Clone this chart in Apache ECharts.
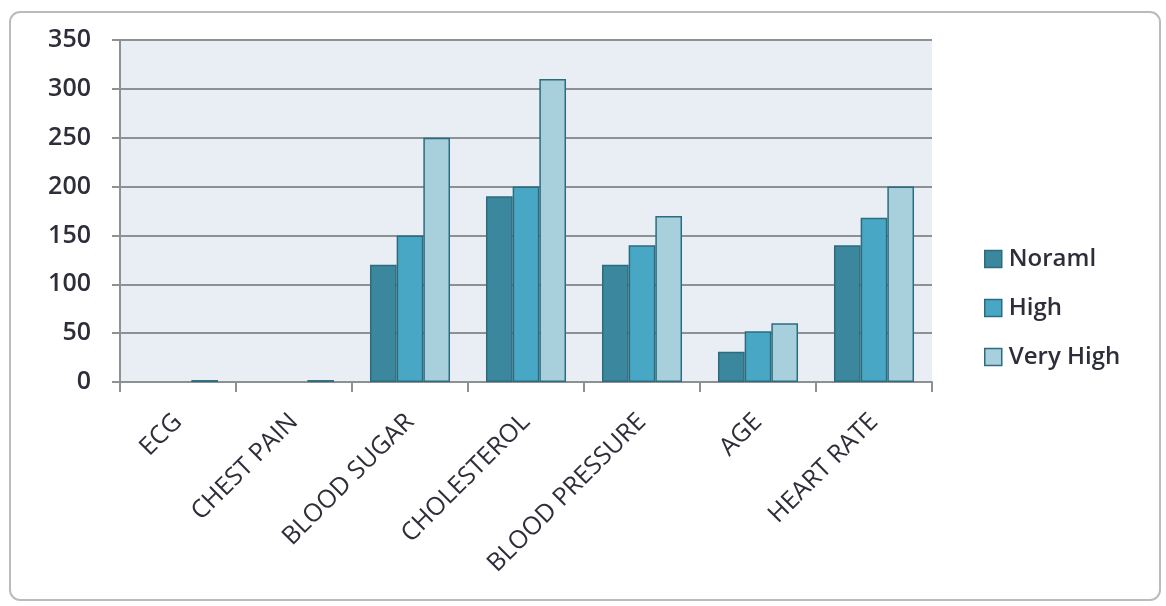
<!DOCTYPE html>
<html>
<head>
<meta charset="utf-8">
<script src="https://cdn.jsdelivr.net/npm/echarts@6/dist/echarts.min.js"></script>
<style>
  html, body { margin: 0; padding: 0; background: #ffffff; }
  #chart { width: 1166px; height: 606px; }
</style>
</head>
<body>
<div id="chart"></div>
<script>
// Risk factor readings grouped by level
const categories = ['ECG', 'CHEST PAIN', 'BLOOD SUGAR', 'CHOLESTEROL', 'BLOOD PRESSURE', 'AGE', 'HEART RATE'];
const seriesNames = ['Noraml', 'High', 'Very High'];
const normalValues = [0, 0, 120, 190, 120, 31, 140];
const highValues = [0, 0, 150, 200, 140, 52, 168];
const veryHighValues = [2, 2, 250, 310, 170, 60, 200];
const yTicks = [0, 50, 100, 150, 200, 250, 300, 350];

const fills = ['#3b879d', '#48a7c4', '#a8cfdc'];
const edge = '#2d6c7e';
const textColor = '#2e2e3a';
const font = '"Open Sans", "Liberation Sans", sans-serif';

const chart = echarts.init(document.getElementById('chart'), null, { renderer: 'canvas' });

const valueSets = [normalValues, highValues, veryHighValues];

chart.setOption({
  animation: false,
  backgroundColor: '#ffffff',
  graphic: [{
    type: 'rect',
    shape: { x: 10, y: 12, width: 1150, height: 588, r: 10 },
    style: { fill: 'none', stroke: '#b9bcbf', lineWidth: 2 },
    z: -1
  }],
  grid: {
    left: 120, right: 234, top: 40, bottom: 224,
    show: true, backgroundColor: '#e9eef5', borderWidth: 0
  },
  legend: {
    orient: 'vertical',
    left: 979, top: 242,
    itemWidth: 17, itemHeight: 17, itemGap: 25,
    icon: 'rect',
    data: seriesNames,
    textStyle: { fontFamily: font, fontSize: 24, fontWeight: 600, color: textColor, padding: [0, 0, 0, 2] },
    itemStyle: { borderColor: edge, borderWidth: 1.5 }
  },
  xAxis: {
    type: 'category',
    data: categories,
    boundaryGap: true,
    axisLine: { show: true, onZero: false, lineStyle: { color: '#8e9194', width: 2 } },
    axisTick: { show: true, length: 10, alignWithLabel: false, lineStyle: { color: '#8e9194', width: 2 } },
    axisLabel: {
      rotate: 45, margin: 36, interval: 0,
      fontFamily: font, fontSize: 25, color: textColor
    }
  },
  yAxis: {
    type: 'value',
    min: 0, max: 350, interval: 50,
    axisLine: { show: true, lineStyle: { color: '#8e9194', width: 2 } },
    axisTick: { show: true, length: 8, lineStyle: { color: '#8e9194', width: 2 } },
    splitLine: { show: true, lineStyle: { color: '#8e9194', width: 2 } },
    axisLabel: {
      margin: 29, fontFamily: font, fontSize: 25, fontWeight: 600, color: textColor,
      formatter: v => yTicks.includes(v) ? String(v) : ''
    }
  },
  series: seriesNames.map((name, i) => ({
    name: name,
    type: 'bar',
    // a zero reading leaves its slot empty
    data: valueSets[i].map(v => (v === 0 ? null : v)),
    barGap: '0%',
    barCategoryGap: '31%',
    itemStyle: { color: fills[i], borderColor: edge, borderWidth: 1.5 }
  }))
});
</script>
</body>
</html>
